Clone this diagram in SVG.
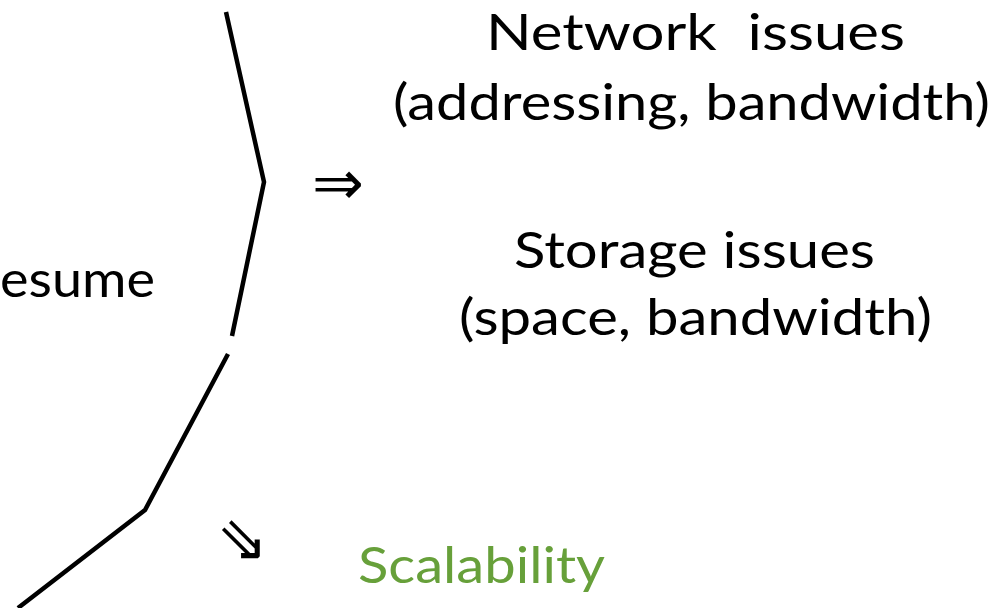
<svg xmlns="http://www.w3.org/2000/svg" width="1006" height="608" viewBox="0 0 1006 608">
<style>
.t{font-family:Lato,"Open Sans","Liberation Sans",sans-serif;font-size:50px;fill:#000}
.g{fill:#67a03a}
.c{fill:none;stroke:#000;stroke-width:4.5;stroke-linecap:butt;stroke-linejoin:miter}
.a{font-family:"DejaVu Sans",sans-serif;font-size:62px;fill:#000}
</style>
<rect width="1006" height="608" fill="#fff"/>
<g id="connectors">
<polyline class="c" points="226,12 264,182 232,336"/>
<polyline class="c" points="228,354 145,510 18,608"/>
</g>
<g id="resume"><text class="t" x="0" y="297" textLength="155" lengthAdjust="spacingAndGlyphs">esume</text></g>
<g id="arrow1"><text class="a" x="338" y="204" text-anchor="middle">⇒</text></g>
<g id="arrow2"><text class="a" x="242" y="560" text-anchor="middle">⇘</text></g>
<g id="network"><text class="t" x="486" y="50" textLength="419" lengthAdjust="spacingAndGlyphs">Network&#160; issues</text>
<text class="t" x="393" y="120" textLength="597" lengthAdjust="spacingAndGlyphs">(addressing, bandwidth)</text></g>
<g id="storage"><text class="t" x="514" y="268" textLength="361" lengthAdjust="spacingAndGlyphs">Storage issues</text>
<text class="t" x="459" y="335" textLength="473" lengthAdjust="spacingAndGlyphs">(space, bandwidth)</text></g>
<g id="scalability"><text class="t g" x="358" y="583" textLength="247" lengthAdjust="spacingAndGlyphs">Scalability</text></g>
</svg>
